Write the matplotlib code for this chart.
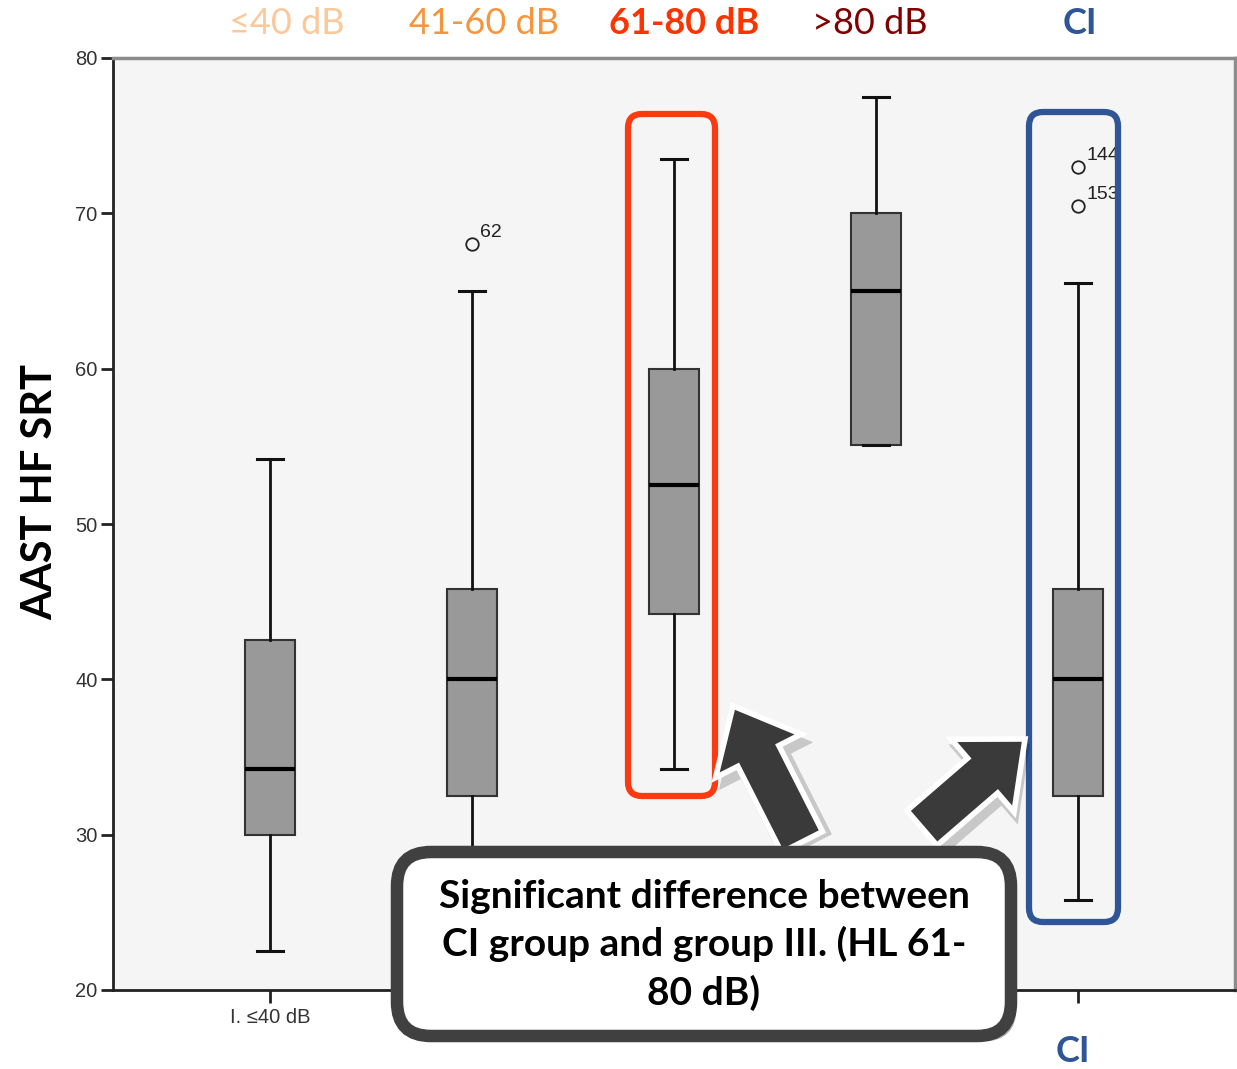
import matplotlib.pyplot as plt
import matplotlib.patheffects as pe
from matplotlib.patches import FancyBboxPatch, FancyArrow

# tick labels II-IV and CI are covered by the callout in the original
groups = ["I. \u226440 dB", "", "", "", ""]
whislo = [22.5, 25.5, 34.2, 55.1, 25.8]
q1 = [30.0, 32.5, 44.2, 55.1, 32.5]
med = [34.2, 40.0, 52.5, 65.0, 40.0]
q3 = [42.5, 45.8, 60.0, 70.0, 45.8]
whishi = [54.2, 65.0, 73.5, 77.5, 65.5]
outliers = [[], [68.0], [], [], [73.0, 70.5]]
outlier_ids = [[], ["62"], [], [], ["144", "153"]]

top_labels = ["\u226440 dB", "41-60 dB", "61-80 dB", ">80 dB", "CI"]
top_colors = ["#FAC89A", "#F7953F", "#FF3300", "#800000", "#2F5597"]
top_bold = [False, False, True, False, True]

W, H = 1237, 1069
fig = plt.figure(figsize=(W / 100, H / 100), dpi=100)
ax = fig.add_axes([113 / W, 1 - 990 / H, (1235 - 113) / W, (990 - 58) / H])
ax.set_facecolor("#F5F5F5")

stats = []
for i in range(len(groups)):
    stats.append(dict(whislo=whislo[i], q1=q1[i], med=med[i], q3=q3[i],
                      whishi=whishi[i], fliers=outliers[i], label=groups[i]))

ax.bxp(stats, positions=range(1, 6), widths=0.25, patch_artist=True,
       boxprops=dict(facecolor="#999999", edgecolor="#333333", linewidth=1.5),
       medianprops=dict(color="black", linewidth=3),
       whiskerprops=dict(color="#111111", linewidth=2),
       capprops=dict(color="#111111", linewidth=2.2),
       capwidths=0.125,
       flierprops=dict(marker="o", markerfacecolor="none", markeredgecolor="#222222",
                       markersize=9, markeredgewidth=1.3))

for i, (vals, ids) in enumerate(zip(outliers, outlier_ids)):
    for v, t in zip(vals, ids):
        ax.annotate(t, (i + 1, v), xytext=(6, 5), textcoords="offset points",
                    fontsize=14, color="#222222", family="Liberation Sans")

ax.set_xlim(0.223, 5.777)
ax.set_ylim(20, 80)
ax.set_yticks(range(20, 81, 10))
ax.tick_params(axis="both", direction="out", length=9, width=2, colors="#222222",
               labelsize=14.5)
ax.tick_params(axis="x", pad=4)
ax.tick_params(axis="y", pad=2)
for lab in ax.get_xticklabels() + ax.get_yticklabels():
    lab.set_family("Liberation Sans")
    lab.set_color("#333333")
for s in ["left", "bottom"]:
    ax.spines[s].set_color("#222222")
    ax.spines[s].set_linewidth(2)
for s in ["top", "right"]:
    ax.spines[s].set_color("#8C8C8C")
    ax.spines[s].set_linewidth(2.5)

# overlay in pixel coordinates for the annotations
ov = fig.add_axes([0, 0, 1, 1])
ov.set_xlim(0, W)
ov.set_ylim(H, 0)
ov.axis("off")
ov.patch.set_alpha(0)

xs = [287, 484, 684, 870, 1080]
for x, t, c, b in zip(xs, top_labels, top_colors, top_bold):
    ov.text(x, 23, t, color=c, fontsize=26, family="Lato",
            fontweight="bold" if b else "normal", ha="center", va="center")

ov.text(1073, 1052, "CI", color="#2F5597", fontsize=26, family="Lato",
        fontweight="bold", ha="center", va="center")

fig.text(40 / W, 1 - 492 / H, "AAST HF SRT", rotation=90, fontsize=30,
         family="Lato", fontweight="bold", ha="center", va="center")

ov.add_patch(FancyBboxPatch((628, 114), 87, 682, boxstyle="round,pad=0,rounding_size=14",
                            facecolor="none", edgecolor="#FA3A12", linewidth=4.5))
ov.add_patch(FancyBboxPatch((1029, 112), 89, 810, boxstyle="round,pad=0,rounding_size=14",
                            facecolor="none", edgecolor="#2F5597", linewidth=4.5))

for (x0, y0, x1, y1) in [(802, 842, 733, 706), (922, 828, 1025, 739)]:
    sh = FancyArrow(x0 + 5, y0 + 5, x1 - x0, y1 - y0, width=56, head_width=106, head_length=62,
                    length_includes_head=True, facecolor="black", edgecolor="none", alpha=0.18)
    ov.add_patch(sh)
    a = FancyArrow(x0, y0, x1 - x0, y1 - y0, width=46, head_width=96, head_length=56,
                   length_includes_head=True, facecolor="#3A3A3A", edgecolor="white",
                   linewidth=4, joinstyle="miter")
    ov.add_patch(a)

box = FancyBboxPatch((397, 852), 614, 184, boxstyle="round,pad=0,rounding_size=34",
                     facecolor="white", edgecolor="#404040", linewidth=9)
box.set_path_effects([pe.SimplePatchShadow(offset=(4, -4), shadow_rgbFace="black", alpha=0.3),
                      pe.Normal()])
ov.add_patch(box)
ov.text(704, 945, "Significant difference between\nCI group and group III. (HL 61-\n80 dB)",
        fontsize=28, family="Lato", fontweight="bold", ha="center", va="center",
        linespacing=1.4)

fig.savefig("out.png", dpi=100)
